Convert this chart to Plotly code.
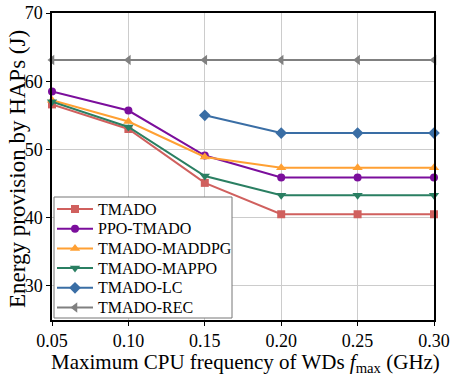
import plotly.graph_objects as go

x_vals = [0.05, 0.10, 0.15, 0.20, 0.25, 0.30]
x_ticktext = ["0.05", "0.10", "0.15", "0.20", "0.25", "0.30"]
y_ticks = [30, 40, 50, 60, 70]
tmado = [56.6, 53.0, 45.1, 40.5, 40.5, 40.5]
ppo_tmado = [58.5, 55.7, 49.1, 45.9, 45.9, 45.9]
maddpg = [57.2, 54.1, 48.9, 47.3, 47.3, 47.3]
mappo = [57.0, 53.3, 46.1, 43.3, 43.3, 43.3]
lc_x = [0.15, 0.20, 0.25, 0.30]
lc = [55.0, 52.4, 52.4, 52.4]
rec = [63.1, 63.1, 63.1, 63.1, 63.1, 63.1]

series = [
    ("TMADO", x_vals, tmado, "#d0605e", "square"),
    ("PPO-TMADO", x_vals, ppo_tmado, "#7b0e9c", "circle"),
    ("TMADO-MADDPG", x_vals, maddpg, "#ffa033", "triangle-up"),
    ("TMADO-MAPPO", x_vals, mappo, "#2a7f62", "triangle-down"),
    ("TMADO-LC", lc_x, lc, "#3a6ea5", "diamond"),
    ("TMADO-REC", x_vals, rec, "#808080", "triangle-left"),
]

X_RANGE = [0.05, 0.30]
Y_RANGE = [25, 70]

# figure geometry in pixels
W, H = 463, 379
L, R, T, B = 52, 29, 13, 59
PLOT_LEFT, PLOT_RIGHT = L, W - R
PLOT_TOP, PLOT_BOTTOM = T, H - B


def px_to_x(px):
    return X_RANGE[0] + (px - PLOT_LEFT) / (PLOT_RIGHT - PLOT_LEFT) * (X_RANGE[1] - X_RANGE[0])


def py_to_y(py):
    return Y_RANGE[1] - (py - PLOT_TOP) / (PLOT_BOTTOM - PLOT_TOP) * (Y_RANGE[1] - Y_RANGE[0])


font = "'Liberation Serif', 'Times New Roman', Times, serif"
msize = {"square": 8, "circle": 8, "triangle-up": 9, "triangle-down": 9,
         "diamond": 9, "triangle-left": 9}

fig = go.Figure()
for name, xs, ys, color, sym in series:
    fig.add_trace(go.Scatter(
        x=xs, y=ys, name=name, mode="lines+markers",
        line=dict(color=color, width=2),
        marker=dict(symbol=sym, size=msize[sym], color=color),
        cliponaxis=False, showlegend=False,
    ))

# custom legend (pixel-based overlay axes)
row0, row_gap = 209, 19.7
samp_x0, samp_x1, text_x = 57, 93, 96

annotations = [
    dict(text="Energy provision by HAPs (J)", textangle=-90,
         xref="paper", yref="paper",
         x=(17 - L) / (PLOT_RIGHT - L), y=(PLOT_BOTTOM - 169) / (PLOT_BOTTOM - T),
         xanchor="center", yanchor="middle", showarrow=False,
         font=dict(family=font, size=23, color="black")),
    dict(text="Maximum CPU frequency of WDs <i>f</i><sub>max</sub> (GHz)",
         xref="paper", yref="paper",
         x=(245.5 - L) / (PLOT_RIGHT - L), y=(PLOT_BOTTOM - 363) / (PLOT_BOTTOM - T),
         xanchor="center", yanchor="middle", showarrow=False,
         font=dict(family=font, size=21, color="black")),
]

for i, (name, xs, ys, color, sym) in enumerate(series):
    yy = row0 + i * row_gap
    fig.add_trace(go.Scatter(
        x=[samp_x0, samp_x1], y=[yy, yy], mode="lines",
        line=dict(color=color, width=2), xaxis="x2", yaxis="y2",
        showlegend=False, hoverinfo="skip", cliponaxis=False,
    ))
    fig.add_trace(go.Scatter(
        x=[(samp_x0 + samp_x1) / 2], y=[yy], mode="markers",
        marker=dict(symbol=sym, size=msize[sym], color=color),
        xaxis="x2", yaxis="y2", showlegend=False, hoverinfo="skip",
        cliponaxis=False,
    ))
    annotations.append(dict(
        text=name, xref="x2", yref="y2", x=text_x, y=yy,
        xanchor="left", yanchor="middle", showarrow=False,
        font=dict(family=font, size=16, color="black"),
    ))

fig.add_shape(type="rect", xref="x", yref="y",
              x0=px_to_x(54), x1=px_to_x(232),
              y0=py_to_y(318), y1=py_to_y(197),
              fillcolor="white", line=dict(color="#777777", width=1),
              layer="between")

fig.update_layout(
    width=W, height=H,
    margin=dict(l=L, r=R, t=T, b=B),
    paper_bgcolor="white", plot_bgcolor="white",
    font=dict(family=font, size=18, color="black"),
    showlegend=False,
    xaxis=dict(
        range=X_RANGE, tickvals=x_vals, ticktext=x_ticktext,
        showgrid=True, gridcolor="#cccccc", gridwidth=1,
        showline=True, linecolor="black", linewidth=1.5, mirror=True,
        ticks="outside", ticklen=4, tickcolor="black",
        tickfont=dict(family=font, size=18),
        automargin=False, zeroline=False,
    ),
    yaxis=dict(
        range=Y_RANGE, tickvals=y_ticks,
        showgrid=True, gridcolor="#cccccc", gridwidth=1,
        showline=True, linecolor="black", linewidth=1.5, mirror=True,
        ticks="outside", ticklen=4, tickcolor="black",
        tickfont=dict(family=font, size=18),
        automargin=False, zeroline=False,
    ),
    xaxis2=dict(overlaying="x", anchor="y2", range=[PLOT_LEFT, PLOT_RIGHT],
                visible=False, showgrid=False, zeroline=False, automargin=False),
    yaxis2=dict(overlaying="y", anchor="x2", range=[PLOT_BOTTOM, PLOT_TOP],
                visible=False, showgrid=False, zeroline=False, automargin=False),
    annotations=annotations,
)

fig.write_html("out.html", config={"displayModeBar": False},
               post_script="document.body.style.margin='0';document.body.style.overflow='hidden';")
